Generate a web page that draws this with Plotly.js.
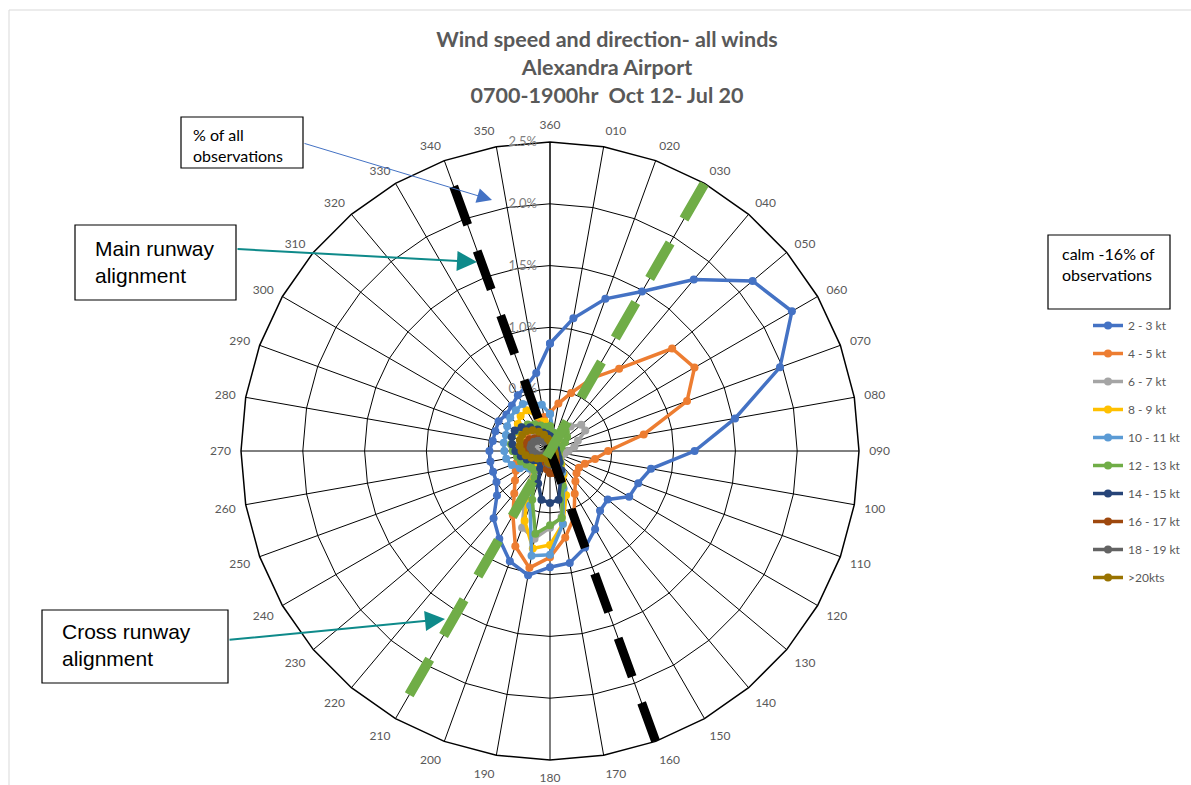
<!DOCTYPE html>
<html>
<head>
<meta charset="utf-8">
<script src="https://cdn.plot.ly/plotly-3.0.1.min.js"></script>
<style>
html,body{margin:0;padding:0;background:#ffffff;}
#chart{width:1191px;height:785px;}
</style>
</head>
<body>
<div id="chart"></div>
<script>
// Wind direction categories (degrees)
const directions = ['360','010','020','030','040','050','060','070','080','090','100','110',
  '120','130','140','150','160','170','180','190','200','210','220','230',
  '240','250','260','270','280','290','300','310','320','330','340','350'];

// % of all observations, per direction (360, 010, ... 350)
const kt2_3 = [0.87,1.09,1.31,1.49,1.81,2.14,2.26,1.98,1.52,1.17,0.83,0.76,
  0.74,0.61,0.63,0.73,0.83,0.92,0.94,1.02,0.95,0.82,0.71,0.56,
  0.50,0.49,0.49,0.49,0.47,0.47,0.48,0.46,0.48,0.52,0.56,0.64];
const kt4_5 = [0.31,0.39,0.50,0.68,0.87,1.29,1.35,1.18,0.77,0.47,0.37,0.30,
  0.27,0.28,0.32,0.40,0.57,0.71,0.86,0.96,0.82,0.60,0.45,0.37,
  0.32,0.29,0.27,0.25,0.22,0.20,0.20,0.21,0.22,0.24,0.26,0.28];
const kt6_7 = [0.12,0.10,0.12,0.18,0.26,0.33,0.33,0.24,0.20,0.15,0.12,0.10,
  0.10,0.11,0.14,0.20,0.28,0.54,0.62,0.72,0.66,0.40,0.22,0.15,
  0.12,0.11,0.11,0.11,0.12,0.13,0.15,0.17,0.18,0.18,0.17,0.15];
const kt8_9 = [0.20,0.12,0.10,0.10,0.10,0.10,0.09,0.08,0.07,0.07,0.07,0.07,
  0.08,0.10,0.14,0.22,0.38,0.60,0.76,0.80,0.60,0.35,0.20,0.15,
  0.14,0.14,0.15,0.17,0.20,0.25,0.30,0.34,0.37,0.38,0.30,0.24];
const kt10_11 = [0.30,0.15,0.10,0.08,0.08,0.07,0.06,0.05,0.05,0.05,0.05,0.05,
  0.06,0.08,0.12,0.20,0.32,0.60,0.84,0.86,0.47,0.25,0.20,0.22,
  0.28,0.33,0.36,0.37,0.38,0.38,0.40,0.42,0.43,0.44,0.42,0.38];
const kt12_13 = [0.20,0.15,0.15,0.18,0.20,0.18,0.14,0.10,0.08,0.07,0.07,0.07,
  0.08,0.10,0.13,0.18,0.30,0.55,0.60,0.68,0.42,0.25,0.20,0.20,
  0.22,0.25,0.27,0.30,0.32,0.33,0.32,0.30,0.28,0.25,0.22,0.20];
const kt14_15 = [0.12,0.08,0.06,0.06,0.06,0.05,0.05,0.05,0.05,0.05,0.05,0.06,
  0.07,0.09,0.12,0.18,0.25,0.40,0.42,0.40,0.28,0.16,0.12,0.12,
  0.15,0.20,0.24,0.28,0.31,0.33,0.33,0.30,0.25,0.20,0.16,0.14];
const kt16_17 = [0.06,0.04,0.03,0.03,0.03,0.03,0.03,0.03,0.03,0.03,0.03,0.03,
  0.04,0.05,0.07,0.10,0.14,0.18,0.18,0.15,0.10,0.07,0.06,0.07,
  0.09,0.12,0.15,0.18,0.20,0.20,0.19,0.16,0.13,0.10,0.08,0.07];
const kt18_19 = [0.04,0.03,0.02,0.02,0.02,0.02,0.02,0.02,0.02,0.02,0.02,0.02,
  0.03,0.04,0.05,0.07,0.09,0.11,0.11,0.10,0.07,0.05,0.05,0.06,
  0.08,0.10,0.12,0.14,0.16,0.16,0.15,0.13,0.11,0.08,0.06,0.05];
const kt20plus = [0.08,0.05,0.04,0.04,0.04,0.03,0.03,0.03,0.03,0.03,0.03,0.04,
  0.04,0.05,0.06,0.07,0.09,0.10,0.10,0.09,0.07,0.06,0.07,0.09,
  0.12,0.16,0.20,0.23,0.25,0.26,0.26,0.25,0.22,0.18,0.14,0.10];

const seriesNames = ['2 - 3 kt','4 - 5 kt','6 - 7 kt','8 - 9 kt','10 - 11 kt',
  '12 - 13 kt','14 - 15 kt','16 - 17 kt','18 - 19 kt','>20kts'];
const seriesValues = [kt2_3,kt4_5,kt6_7,kt8_9,kt10_11,kt12_13,kt14_15,kt16_17,kt18_19,kt20plus];
const seriesColors = ['#4472C4','#ED7D31','#A5A5A5','#FFC000','#5B9BD5',
  '#70AD47','#264478','#9E480E','#636363','#997300'];

// Runway alignments (direction ends, radial extent in %)
const mainRunwayTheta = ['160','340'];
const mainRunwayR = [2.5, 2.5];
const crossRunwayTheta = ['030','210'];
const crossRunwayR = [2.5, 2.5];

const radialTicks = [0, 0.5, 1.0, 1.5, 2.0, 2.5];
const radialTickText = ['0.0%','0.5%','1.0%','1.5%','2.0%','2.5%'];

const W = 1191, H = 785;
const px = x => x / W;
const py = y => 1 - y / H;

const traces = seriesNames.map((name, i) => ({
  type: 'scatterpolar',
  mode: 'lines+markers',
  name: name,
  legendgroup: name,
  theta: directions.concat([directions[0]]),
  r: seriesValues[i].concat([seriesValues[i][0]]),
  line: {color: seriesColors[i], width: 3.5},
  marker: {color: seriesColors[i], size: 8},
  hoverinfo: 'name+theta+r'
}));

traces.push({
  type: 'scatterpolar', mode: 'lines', showlegend: false, hoverinfo: 'skip',
  theta: mainRunwayTheta, r: mainRunwayR,
  line: {color: '#000000', width: 9, dash: '41px,27.7px'}
});
traces.push({
  type: 'scatterpolar', mode: 'lines', showlegend: false, hoverinfo: 'skip',
  theta: crossRunwayTheta, r: crossRunwayR,
  line: {color: '#70AD47', width: 10, dash: '41px,27.7px'}
});

const boxes = [
  [181,117,303,168],
  [75,225,236,300],
  [42,610,228,683],
  [1048,235,1170,309]
];
const shapes = boxes.map(b => ({
  type: 'rect', xref: 'paper', yref: 'paper',
  x0: px(b[0]), x1: px(b[2]), y0: py(b[1]), y1: py(b[3]),
  line: {color: '#000000', width: 1.2}, fillcolor: 'rgba(255,255,255,0)'
}));
shapes.push({
  type: 'rect', xref: 'paper', yref: 'paper',
  x0: px(9), x1: px(1200), y0: py(10), y1: py(800),
  line: {color: '#D9D9D9', width: 1}
});

const annotations = [
  {xref:'paper', yref:'paper', x: px(191), y: py(145), xanchor:'left', yanchor:'middle',
   align:'left', showarrow:false, text:'% of all<br>observations',
   font:{family:'Lato', size:16, color:'#000000'}},
  {xref:'paper', yref:'paper', x: px(93), y: py(262), xanchor:'left', yanchor:'middle',
   align:'left', showarrow:false, text:'Main runway<br>alignment',
   font:{family:'Liberation Sans', size:21, color:'#000000'}},
  {xref:'paper', yref:'paper', x: px(60), y: py(645), xanchor:'left', yanchor:'middle',
   align:'left', showarrow:false, text:'Cross runway<br>alignment',
   font:{family:'Liberation Sans', size:21, color:'#000000'}},
  {xref:'paper', yref:'paper', x: px(1060), y: py(264), xanchor:'left', yanchor:'middle',
   align:'left', showarrow:false, text:'calm -16% of<br>observations',
   font:{family:'Lato', size:16, color:'#000000'}},
  // arrows
  {xref:'paper', yref:'paper', x: px(492), y: py(200), ax: 303-492, ay: 143-200,
   text:'', showarrow:true, arrowhead:2, arrowsize:3, arrowwidth:1, arrowcolor:'#4472C4'},
  {xref:'paper', yref:'paper', x: px(477), y: py(262), ax: 236-477, ay: 249-262,
   text:'', showarrow:true, arrowhead:2, arrowsize:2, arrowwidth:2, arrowcolor:'#0E8A8A'},
  {xref:'paper', yref:'paper', x: px(445), y: py(619), ax: 228-445, ay: 640-619,
   text:'', showarrow:true, arrowhead:2, arrowsize:2, arrowwidth:2, arrowcolor:'#0E8A8A'}
];

const layout = {
  width: W, height: H,
  margin: {l:0, r:0, t:0, b:0, autoexpand: false},
  paper_bgcolor: '#ffffff',
  font: {family: 'Lato', color: '#595959'},
  title: {
    text: 'Wind speed and direction- all winds<br>Alexandra Airport<br>0700-1900hr\u00A0 Oct 12- Jul 20',
    font: {family: 'Lato', size: 21.5, color: '#595959', weight: 'bold'},
    xref: 'container', yref: 'container',
    x: px(607), xanchor: 'center', y: py(47), yanchor: 'top'
  },
  polar: {
    domain: {x: [px(241), px(859)], y: [py(760), py(142)]},
    bgcolor: '#ffffff',
    gridshape: 'linear',
    angularaxis: {
      type: 'category', categoryarray: directions,
      direction: 'clockwise', rotation: 90,
      showgrid: true, gridcolor: '#000000', gridwidth: 1,
      showline: true, linecolor: '#000000', linewidth: 1.5,
      ticks: 'outside', ticklen: 7, tickcolor: 'rgba(0,0,0,0)',
      tickfont: {family: 'Lato', size: 12, color: '#595959'},
      layer: 'below traces'
    },
    radialaxis: {
      range: [0, 2.5], tickmode: 'array', tickvals: radialTicks, ticktext: radialTickText,
      angle: 90, side: 'counterclockwise', tickangle: 90,
      showline: true, linecolor: '#000000', linewidth: 1,
      showgrid: true, gridcolor: '#000000', gridwidth: 1.3,
      ticks: 'outside', ticklen: 8, tickcolor: 'rgba(0,0,0,0)',
      tickfont: {family: 'Lato', size: 13, color: '#7F7F7F'},
      layer: 'below traces'
    }
  },
  showlegend: true,
  legend: {
    xref: 'paper', yref: 'paper',
    x: px(1088), y: py(311), xanchor: 'left', yanchor: 'top',
    traceorder: 'grouped', tracegroupgap: 9,
    font: {family: 'Lato', size: 12, color: '#595959'},
    bgcolor: 'rgba(0,0,0,0)', borderwidth: 0
  },
  shapes: shapes,
  annotations: annotations
};

Plotly.newPlot('chart', traces, layout, {displayModeBar: false, staticPlot: false});
</script>
</body>
</html>
